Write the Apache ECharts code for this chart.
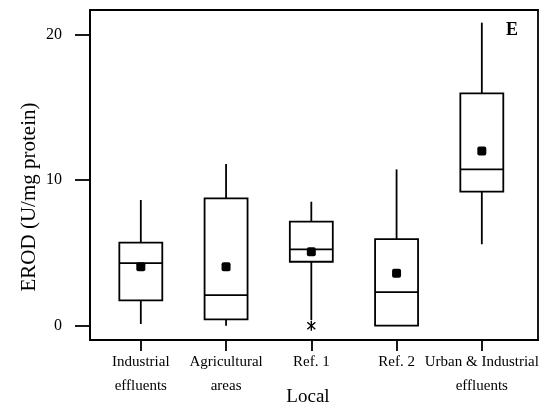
<!DOCTYPE html>
<html>
<head>
<meta charset="utf-8">
<script src="https://cdn.jsdelivr.net/npm/echarts@6/dist/echarts.min.js"></script>
<style>html,body{margin:0;padding:0;background:#fff}#c{width:549px;height:409px}</style>
</head>
<body>
<div id="c"></div>
<script>
const categories = ['Industrial\neffluents', 'Agricultural\nareas', 'Ref. 1', 'Ref. 2', 'Urban & Industrial\neffluents'];
const whiskerLow  = [0.12, 0.0, 0.39, 0.0, 5.59];
const q1          = [1.74, 0.44, 4.39, 0.0, 9.2];
const median      = [4.30, 2.10, 5.24, 2.31, 10.73];
const q3          = [5.70, 8.74, 7.14, 5.95, 15.95];
const whiskerHigh = [8.63, 11.1, 8.51, 10.73, 20.8];
const means       = [4.05, 4.05, 5.08, 3.6, 12.0];
const outlierCat  = [2];
const outlierVal  = [0.0];
const yTicks = [0, 10, 20];

const font = '"Liberation Serif", "Times New Roman", serif';
const boxData = categories.map((c, i) => [i, whiskerLow[i], q1[i], median[i], q3[i], whiskerHigh[i]]);
const meanData = means.map((m, i) => [i, m]);
const outData = outlierCat.map((c, k) => [c, outlierVal[k]]);
const LW = 1.8;

const chart = echarts.init(document.getElementById('c'), null, {renderer: 'canvas'});
chart.setOption({
  animation: false,
  backgroundColor: '#fff',
  grid: {left: 90, right: 11, top: 10, bottom: 69, show: true, borderColor: '#000', borderWidth: LW,
    backgroundColor: 'transparent', outerBoundsMode: 'none', containLabel: false},
  xAxis: {
    type: 'value', min: -0.596, max: 4.659,
    splitLine: {show: false},
    axisLine: {show: true, onZero: false, lineStyle: {color: '#000', width: LW}},
    axisTick: {show: true, length: 11, customValues: [0, 1, 2, 3, 4], lineStyle: {color: '#000', width: LW}},
    axisLabel: {customValues: [0, 1, 2, 3, 4], margin: 10, color: '#000', fontFamily: font, fontSize: 15, lineHeight: 24,
      formatter: v => categories[Math.round(v)]},
    name: 'Local', nameLocation: 'middle', nameGap: 48, nameMoveOverlap: false,
    nameTextStyle: {color: '#000', fontFamily: font, fontSize: 19, verticalAlign: 'top', padding: [0, 12, 0, 0]}
  },
  yAxis: {
    type: 'value', min: -0.98, max: 21.67,
    splitLine: {show: false},
    axisLine: {show: true, onZero: false, lineStyle: {color: '#000', width: LW}},
    axisTick: {show: true, length: 15, customValues: yTicks, lineStyle: {color: '#000', width: LW}},
    axisLabel: {customValues: yTicks, margin: 28, color: '#000', fontFamily: font, fontSize: 16}
  },
  graphic: [
    {type: 'text', x: 29, y: 197, rotation: Math.PI / 2,
     style: {text: 'EROD (U/mg protein)', fill: '#000', font: '21px ' + font, align: 'center', verticalAlign: 'middle'}},
    {type: 'text', x: 512, y: 30,
     style: {text: 'E', fill: '#000', font: 'bold 18px ' + font, align: 'center', verticalAlign: 'middle'}}
  ],
  series: [
    {
      type: 'custom', data: boxData, encode: {x: 0, y: [1, 2, 3, 4, 5]},
      renderItem: function (params, api) {
        const i = api.value(0);
        const hw = api.size([0.504, 0])[0] / 2;
        const pLow = api.coord([i, api.value(1)]);
        const pQ1 = api.coord([i, api.value(2)]);
        const pMed = api.coord([i, api.value(3)]);
        const pQ3 = api.coord([i, api.value(4)]);
        const pHigh = api.coord([i, api.value(5)]);
        const x = pQ1[0];
        const st = {stroke: '#000', lineWidth: LW, fill: null};
        return {type: 'group', children: [
          {type: 'line', shape: {x1: x, y1: pQ3[1], x2: x, y2: pHigh[1]}, style: st},
          {type: 'line', shape: {x1: x, y1: pQ1[1], x2: x, y2: pLow[1]}, style: st},
          {type: 'rect', shape: {x: x - hw, y: pQ3[1], width: 2 * hw, height: pQ1[1] - pQ3[1]}, style: st},
          {type: 'line', shape: {x1: x - hw, y1: pMed[1], x2: x + hw, y2: pMed[1]}, style: st}
        ]};
      }
    },
    {
      type: 'custom', data: meanData, encode: {x: 0, y: 1},
      renderItem: function (params, api) {
        const p = api.coord([api.value(0), api.value(1)]);
        return {type: 'rect', shape: {x: p[0] - 4.5, y: p[1] - 4.5, width: 9, height: 9, r: 2}, style: {fill: '#000'}};
      }
    },
    {
      type: 'custom', data: outData, encode: {x: 0, y: 1},
      renderItem: function (params, api) {
        const p = api.coord([api.value(0), api.value(1)]);
        const st = {stroke: '#000', lineWidth: 1.4};
        return {type: 'group', children: [
          {type: 'line', shape: {x1: p[0], y1: p[1] - 5, x2: p[0], y2: p[1] + 5}, style: st},
          {type: 'line', shape: {x1: p[0] - 4, y1: p[1] - 3.5, x2: p[0] + 4, y2: p[1] + 3.5}, style: st},
          {type: 'line', shape: {x1: p[0] - 4, y1: p[1] + 3.5, x2: p[0] + 4, y2: p[1] - 3.5}, style: st}
        ]};
      }
    }
  ]
});
</script>
</body>
</html>
